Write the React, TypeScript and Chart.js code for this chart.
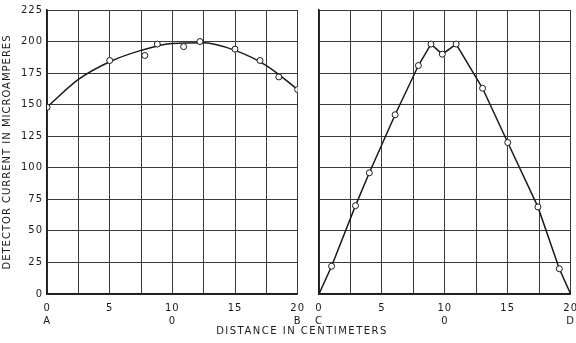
import { useEffect, useRef } from 'react';
import { Chart, registerables } from 'chart.js';

Chart.register(...registerables);

// ---- Data ----
const leftPointX = [0, 5, 7.8, 8.8, 10.9, 12.2, 15, 17, 18.5, 20];
const leftPointY = [148, 185, 189, 198, 196, 200, 194, 185, 172, 162];
const leftCurveX = [0, 2.5, 5, 7.5, 10, 12.5, 15, 17.5, 20];
const leftCurveY = [148, 170, 184, 193, 198.5, 199, 193, 181, 162];

const rightX = [0, 1, 2.9, 4, 6.05, 7.9, 8.9, 9.8, 10.9, 13, 15, 17.4, 19.1, 20];
const rightY = [0, 22, 70, 96, 142, 181, 198, 190, 198, 163, 120, 69, 20, 0];
const rightMarked = [false, true, true, true, true, true, true, true, true, true, true, true, true, false];

const leftLetters: Record<number, string> = { 0: 'A', 10: '0', 20: 'B' };
const rightLetters: Record<number, string> = { 0: 'C', 10: '0', 20: 'D' };

const yTitle = 'DETECTOR CURRENT IN MICROAMPERES';
const xTitle = 'DISTANCE IN CENTIMETERS';

const FONT = '"DejaVu Sans", sans-serif';
const INK = '#1a1a1a';
const GRID = '#3a3a3a';

const spacingPlugin = {
  id: 'spacing',
  beforeLayout(chart: any) { chart.ctx.letterSpacing = '1px'; },
  beforeDraw(chart: any) { chart.ctx.letterSpacing = '1px'; },
};

function xTickCb(letters: Record<number, string>) {
  return (v: any) => {
    const n = Number(v);
    if (Math.abs(n % 5) > 1e-6) return '';
    return [String(n), letters[n] ?? ''];
  };
}

function baseScales(letters: Record<number, string>, showY: boolean) {
  return {
    x: {
      type: 'linear' as const,
      min: 0,
      max: 20,
      ticks: {
        stepSize: 2.5,
        autoSkip: false,
        maxRotation: 0,
        padding: 8,
        color: INK,
        font: { family: FONT, size: 10, lineHeight: 1.3 },
        callback: xTickCb(letters),
      },
      grid: { color: GRID, lineWidth: 1, drawTicks: false },
      border: { color: INK, width: 1.5 },
    },
    y: {
      min: 0,
      max: 225,
      ticks: {
        stepSize: 25,
        display: showY,
        padding: 4,
        color: INK,
        font: { family: FONT, size: 10 },
      },
      grid: { color: GRID, lineWidth: 1, drawTicks: false },
      border: { color: INK, width: 1.5 },
      title: {
        display: showY,
        text: yTitle,
        color: INK,
        padding: { top: 0, bottom: 4 },
        font: { family: FONT, size: 10 },
      },
    },
  };
}

export default function App() {
  const leftRef = useRef<HTMLCanvasElement | null>(null);
  const rightRef = useRef<HTMLCanvasElement | null>(null);

  useEffect(() => {
    const left = new Chart(leftRef.current!, {
      type: 'scatter',
      data: {
        datasets: [
          {
            data: leftPointX.map((x, i) => ({ x, y: leftPointY[i] })),
            showLine: false,
            pointRadius: 3,
            pointBackgroundColor: '#fff',
            pointBorderColor: INK,
            pointBorderWidth: 1,
          },
          {
            data: leftCurveX.map((x, i) => ({ x, y: leftCurveY[i] })),
            showLine: true,
            borderColor: INK,
            borderWidth: 1.5,
            pointRadius: 0,
            cubicInterpolationMode: 'monotone',
          },
        ],
      },
      options: {
        responsive: false,
        animation: false,
        layout: { padding: { top: 10, right: 8, bottom: 7, left: 1 } },
        plugins: { legend: { display: false }, tooltip: { enabled: false } },
        scales: baseScales(leftLetters, true) as any,
      },
      plugins: [spacingPlugin],
    });

    const right = new Chart(rightRef.current!, {
      type: 'scatter',
      data: {
        datasets: [
          {
            data: rightX.map((x, i) => ({ x, y: rightY[i] })),
            showLine: true,
            borderColor: INK,
            borderWidth: 1.5,
            pointRadius: rightMarked.map((m) => (m ? 3 : 0)),
            pointBackgroundColor: '#fff',
            pointBorderColor: INK,
            pointBorderWidth: 1,
            tension: 0,
          },
        ],
      },
      options: {
        responsive: false,
        animation: false,
        layout: { padding: { top: 10, right: 6, bottom: 7, left: 14 } },
        plugins: { legend: { display: false }, tooltip: { enabled: false } },
        scales: baseScales(rightLetters, false) as any,
      },
      plugins: [spacingPlugin],
    });

    return () => {
      left.destroy();
      right.destroy();
    };
  }, []);

  return (
    <div style={{ position: 'fixed', left: 0, top: 0, width: 576, height: 343, background: '#fff', overflow: 'hidden' }}>
      <canvas ref={leftRef} width={313} height={343} style={{ position: 'absolute', left: 0, top: 0 }} />
      <canvas ref={rightRef} width={281} height={343} style={{ position: 'absolute', left: 305, top: 0 }} />
      <div
        style={{
          position: 'absolute',
          left: 0,
          width: 604,
          top: 324,
          textAlign: 'center',
          fontFamily: FONT,
          fontSize: 10,
          letterSpacing: '1.5px',
          color: INK,
          lineHeight: '14px',
        }}
      >
        {xTitle}
      </div>
    </div>
  );
}
